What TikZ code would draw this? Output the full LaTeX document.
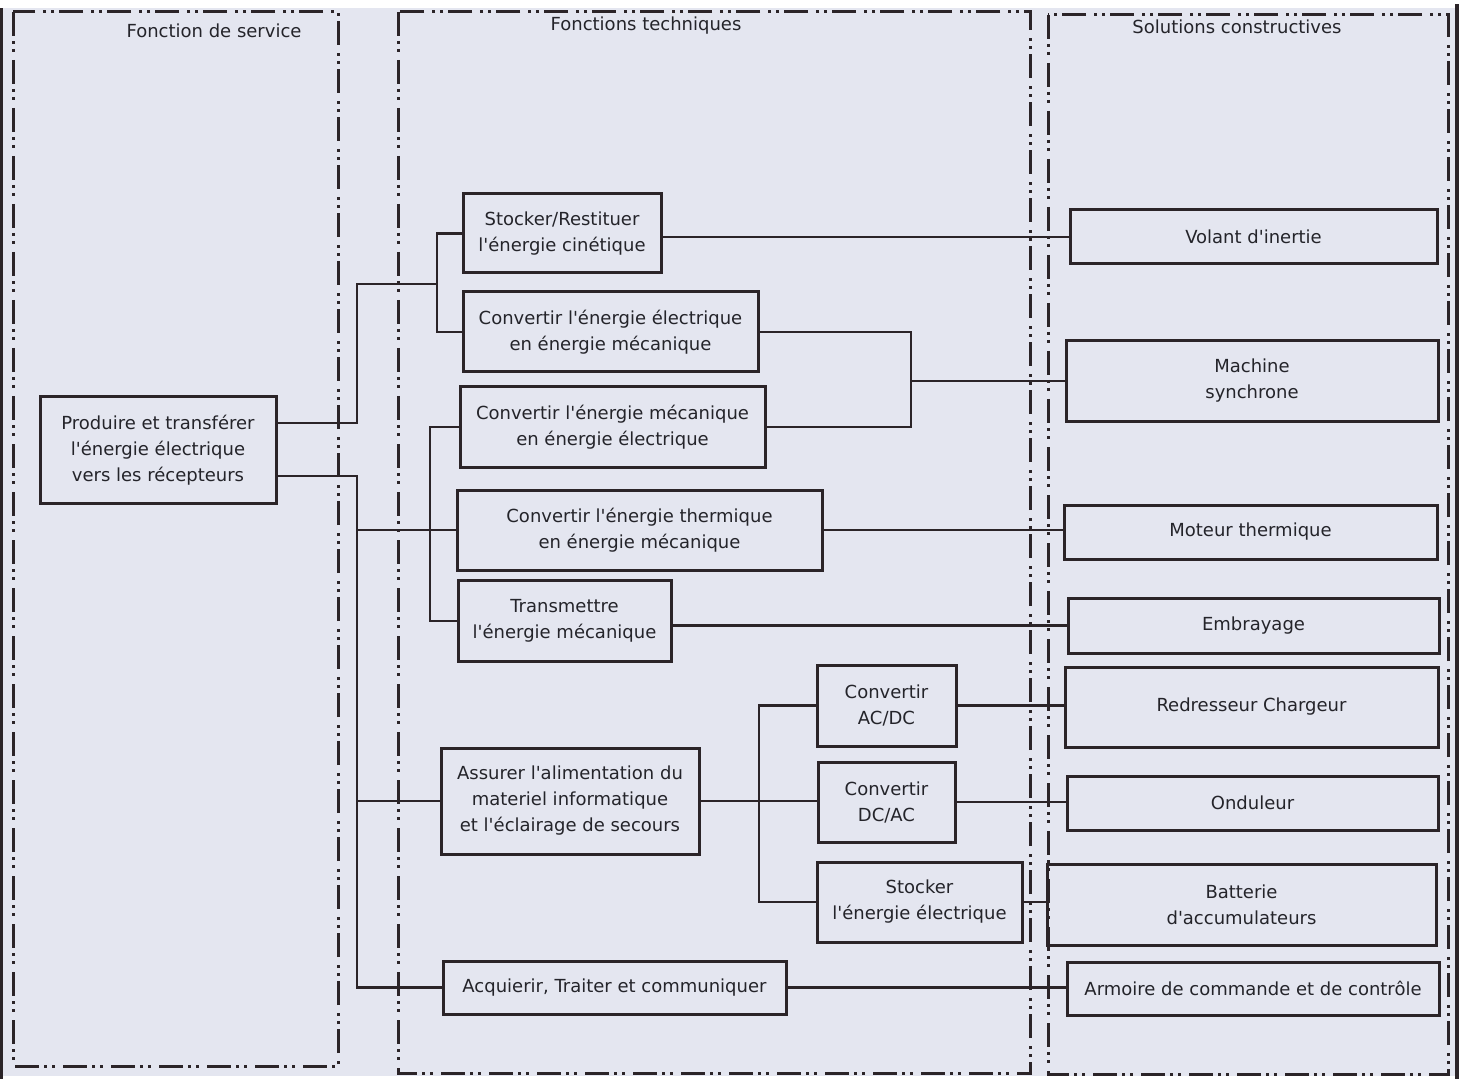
\documentclass[tikz,border=0pt]{standalone}
\usepackage{fontspec}
\setmainfont{DejaVu Sans}
\newfontfamily\dvs{DejaVu Sans}
\definecolor{bgc}{RGB}{228,230,240}
\definecolor{ink}{RGB}{43,36,40}
\definecolor{txt}{RGB}{36,36,42}
\begin{document}
\begin{tikzpicture}[x=0.5pt,y=-0.5pt,
  box/.style={draw=ink, line width=1.5pt, inner sep=0pt, outer sep=0pt, align=center,
    text=txt, font=\dvs\fontsize{9pt}{13pt}\selectfont, minimum width=#1},
  hh/.style={minimum height=#1},
  conn/.style={draw=ink, line width=1.25pt},
  colframe/.style={draw=ink, line width=1.5pt,
    dash pattern=on 12pt off 2.5pt on 1.5pt off 2.5pt on 1.5pt off 4pt},
  coltitle/.style={text=txt, font=\dvs\fontsize{9pt}{11pt}\selectfont, inner sep=0pt}]
% background
\fill[white] (0,0) rectangle (1459,1079);
\useasboundingbox (0,0) rectangle (1459,1079);
\fill[bgc] (0,8) rectangle (1459,1076);
\fill[ink] (0,8) rectangle (3,1079);
\fill[ink] (1455,4) rectangle (1459,1079);
% columns
\draw[colframe] (13,12) rectangle (338,1066);
\draw[colframe] (398,12) rectangle (1030,1073);
\draw[colframe] (1048,15) rectangle (1448,1074);
\node[coltitle] (t1) at (214,31) {Fonction de service};
\node[coltitle] (t2) at (646,26) {Fonctions techniques};
\node[coltitle] (t3) at (1237,27) {Solutions constructives};
% boxes
\node[box=118pt, hh=53pt] (A) at (158,450) {Produire et transférer\\l'énergie électrique\\vers les récepteurs};
\node[box=99pt, hh=39.5pt] (B1) at (562,233.5) {Stocker/Restituer\\l'énergie cinétique};
\node[box=147.5pt, hh=40pt] (B2) at (610.5,332) {Convertir l'énergie électrique\\en énergie mécanique};
\node[box=152.5pt, hh=40pt] (B3) at (612.5,427) {Convertir l'énergie mécanique\\en énergie électrique};
\node[box=182.5pt, hh=40pt] (B4) at (639.5,530) {Convertir l'énergie thermique\\en énergie mécanique};
\node[box=106.5pt, hh=40.5pt] (B5) at (564.5,621) {Transmettre\\l'énergie mécanique};
\node[box=129pt, hh=53pt] (B6) at (570,801) {Assurer l'alimentation du\\materiel informatique\\et l'éclairage de secours};
\node[box=171.5pt, hh=26.5pt] (B7) at (614.5,987.5) {Acquierir, Traiter et communiquer};
\node[box=69.5pt, hh=40.5pt] (C1) at (886.5,705.5) {Convertir\\AC/DC};
\node[box=68.5pt, hh=40pt] (C2) at (886.5,802) {Convertir\\DC/AC};
\node[box=102.5pt, hh=40pt] (C3) at (919.5,902) {Stocker\\l'énergie électrique};
\node[box=183.5pt, hh=27pt] (S1) at (1253.5,237) {Volant d'inertie};
\node[box=186pt, hh=40pt] (S2) at (1252,381) {Machine\\synchrone};
\node[box=186.5pt, hh=27pt] (S3) at (1250.5,532) {Moteur thermique};
\node[box=185.5pt, hh=27.5pt] (S4) at (1253.5,625.5) {Embrayage};
\node[box=186.5pt, hh=40pt] (S5) at (1251.5,707) {Redresseur Chargeur};
\node[box=185.5pt, hh=27pt] (S6) at (1252.5,803) {Onduleur};
\node[box=194.5pt, hh=40.5pt] (S7) at (1241.5,904.5) {Batterie\\d'accumulateurs};
\node[box=186pt, hh=26.5pt] (S8) at (1253,988.5) {Armoire de commande et de contrôle};
% junction coordinates
\coordinate (a1) at (357,423);
\coordinate (a2) at (437,284);
\coordinate (a3) at (357,476);
\coordinate (a4) at (430,500);
\coordinate (a5) at (911,381);
\coordinate (a6) at (759,801);
% connectors
\draw[conn] (A.east |- a1) -- (a1) |- (a2);
\draw[conn] (B1.west) -| (a2) |- (B2.west);
\draw[conn] (A.east |- a3) -- (a3) |- (B7.west);
\draw[conn] (a3 |- B4.west) -- (B4.west);
\draw[conn] (a3 |- B6.west) -- (B6.west);
\draw[conn] (B3.west) -- (B3.west -| a4) -- (B5.west -| a4) -- (B5.west);
\draw[conn] (B2.east) -| (a5) |- (B3.east);
\draw[conn] (a5) -- (S2.west);
\draw[conn] (B1.east |- S1.west) -- (S1.west);
\draw[conn] (B4.east) -- (B4.east -| S3.west);
\draw[conn] (B5.east |- S4.west) -- (S4.west);
\draw[conn] (B6.east) -- (B6.east -| C2.west);
\draw[conn] (C1.west) -- (C1.west -| a6) -- (C3.west -| a6) -- (C3.west);
\draw[conn] (C1.east) -- (C1.east -| S5.west);
\draw[conn] (C2.east) -- (C2.east -| S6.west);
\draw[conn] (C3.east) -- (C3.east -| S7.west);
\draw[conn] (B7.east) -- (B7.east -| S8.west);
\end{tikzpicture}
\end{document}
